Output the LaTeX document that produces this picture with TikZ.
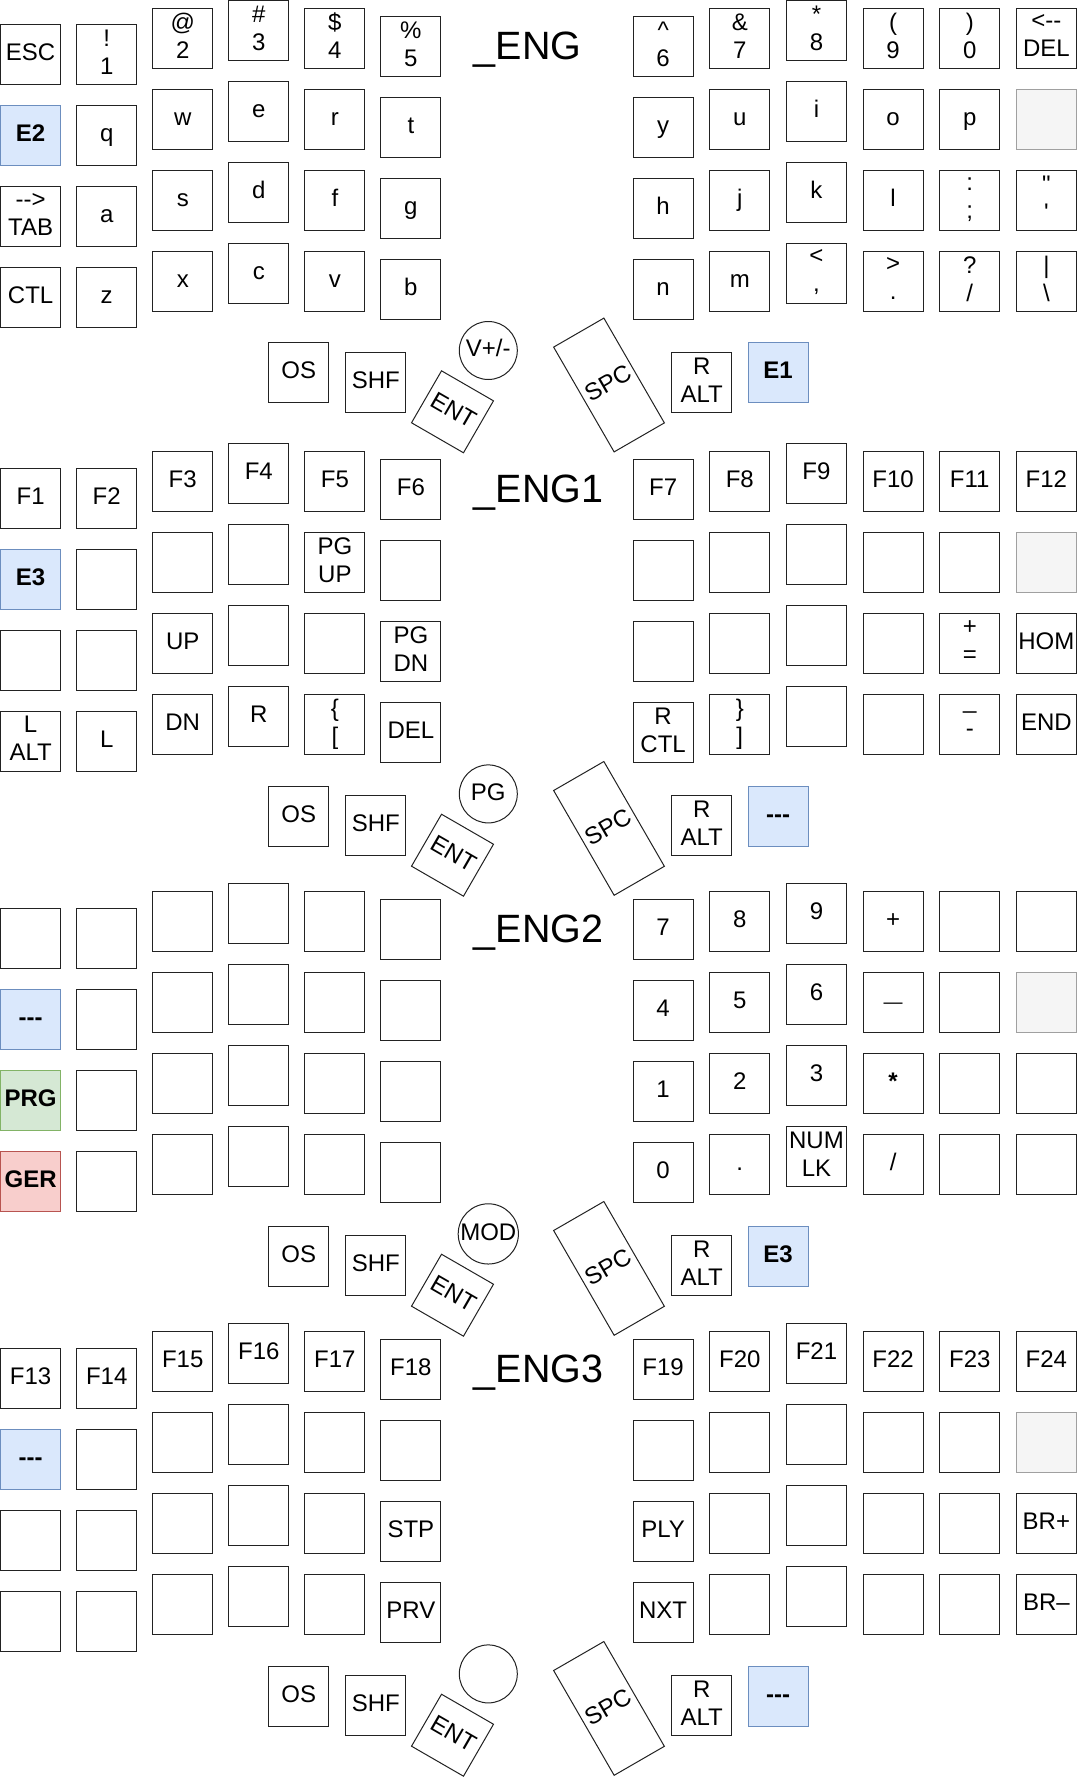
\documentclass[tikz,border=0pt]{standalone}
\usepackage{fontspec}
\setmainfont{Liberation Sans}
\usepackage{tikz}
\definecolor{keyline}{HTML}{222222}
\definecolor{accent}{HTML}{6C8EBF}
\definecolor{accentfill}{HTML}{DAE8FC}
\definecolor{prog}{HTML}{82B366}
\definecolor{progfill}{HTML}{D5E8D4}
\definecolor{ger}{HTML}{B85450}
\definecolor{gerfill}{HTML}{F8CECC}
\definecolor{blank}{HTML}{A0A0A0}
\definecolor{blankfill}{HTML}{F5F5F5}

\newcommand{\keyfont}{\fontsize{24}{28}\selectfont}
\newcommand{\titlefont}{\fontsize{39.5}{46}\selectfont}
\newcommand{\longdash}{{\fontsize{19}{28}\selectfont\textemdash}}
% column centres and first-row centres of the key grid
\newcommand{\colx}{{30.65,106.7,182.75,258.8,334.85,410.9,663.15,739.8,816.45,893.1,969.75,1046.4}}
\newcommand{\coly}{{54.65,54.65,38.35,30.35,38.35,46.35,46.35,38.35,30.35,38.35,38.35,38.35}}

% one row of keys: layer, row, column/style/label
\newcommand{\keyrow}[3]{%
  \foreach \kc/\kst/\ktxt in {#3} {%
    \pgfmathsetmacro{\kx}{\colx[\kc]}%
    \pgfmathsetmacro{\ky}{\coly[\kc]+81*#2}%
    \node[\kst] (#1-\kc-#2) at (\kx,\ky) {\ktxt};
  }%
}
% thumb keys: layer, dial label, style and label of the last key
\newcommand{\thumbrow}[4]{%
  \node[key] (#1-os) at (298.75,372.65) {OS};
  \node[key] (#1-shf) at (375.85,382.35) {SHF};
  \node[key, rotate=-30] (#1-ent) at (452.5,411.8) {ENT};
  \node[dial] (#1-dial) at (488.3,350.5) {#2};
  \node[key, minimum width=58pt, minimum height=121pt, rotate=30] (#1-spc) at (609,385) {SPC};
  \node[key] (#1-ralt) at (701.75,382.35) {R\\ALT};
  \node[#3] (#1-layer) at (778.15,372.65) {#4};
}

\begin{document}
\begin{tikzpicture}[x=1pt, y=-1pt,
    key/.style={draw=keyline, line width=1pt, fill=white, minimum width=60pt, minimum height=60pt,
      inner sep=0pt, align=center, font=\keyfont, execute at begin node={\vphantom{(}}},
    bluekey/.style={key, draw=accent, fill=accentfill, font=\keyfont\bfseries},
    progkey/.style={key, draw=prog, fill=progfill, font=\keyfont\bfseries},
    gerkey/.style={key, draw=ger, fill=gerfill, font=\keyfont\bfseries},
    blankkey/.style={key, draw=blank, fill=blankfill},
    boldkey/.style={key, font=\keyfont\bfseries},
    dial/.style={key, circle, minimum size=58pt},
    title/.style={font=\titlefont, anchor=base west, inner sep=0pt}]
    \useasboundingbox (0,0) rectangle (1078,1779);
    % Base layer
    \begin{scope}
        \node[title] (eng-title) at (473.5,59.5) {\_ENG};
        \keyrow{eng}{0}{0/key/ESC, 1/key/{!\\1}, 2/key/{@\\2}, 3/key/{\#\\3}, 4/key/{\$\\4}, 5/key/{\%\\5},
          6/key/{\textasciicircum\\6}, 7/key/{\&\\7}, 8/key/{*\\8}, 9/key/{(\\9}, 10/key/{)\\0}, 11/key/{<-{}-\\DEL}}
        \keyrow{eng}{1}{0/bluekey/E2, 1/key/q, 2/key/w, 3/key/e, 4/key/r, 5/key/t,
          6/key/y, 7/key/u, 8/key/i, 9/key/o, 10/key/p, 11/blankkey/{}}
        \keyrow{eng}{2}{0/key/{-{}->\\TAB}, 1/key/a, 2/key/s, 3/key/d, 4/key/f, 5/key/g,
          6/key/h, 7/key/j, 8/key/k, 9/key/l, 10/key/{:\\;}, 11/key/{\textquotedbl\\\textquotesingle}}
        \keyrow{eng}{3}{0/key/CTL, 1/key/z, 2/key/x, 3/key/c, 4/key/v, 5/key/b,
          6/key/n, 7/key/m, 8/key/{<\\,}, 9/key/{>\\.}, 10/key/{?\\/}, 11/key/{|\\\textbackslash}}
        \thumbrow{eng}{V+/-}{bluekey}{E1}
    \end{scope}
    % Function layer
    \begin{scope}[yshift=-443.4pt]
        \node[title] (engA-title) at (473.5,59.5) {\_ENG1};
        \keyrow{engA}{0}{0/key/F1, 1/key/F2, 2/key/F3, 3/key/F4, 4/key/F5, 5/key/F6,
          6/key/F7, 7/key/F8, 8/key/F9, 9/key/F10, 10/key/F11, 11/key/F12}
        \keyrow{engA}{1}{0/bluekey/E3, 1/key/{}, 2/key/{}, 3/key/{}, 4/key/{PG\\UP}, 5/key/{},
          6/key/{}, 7/key/{}, 8/key/{}, 9/key/{}, 10/key/{}, 11/blankkey/{}}
        \keyrow{engA}{2}{0/key/{}, 1/key/{}, 2/key/UP, 3/key/{}, 4/key/{}, 5/key/{PG\\DN},
          6/key/{}, 7/key/{}, 8/key/{}, 9/key/{}, 10/key/{+\\=}, 11/key/HOM}
        \keyrow{engA}{3}{0/key/{L\\ALT}, 1/key/L, 2/key/DN, 3/key/R, 4/key/{\{\\{}[}, 5/key/DEL,
          6/key/{R\\CTL}, 7/key/{\}\\{}]}, 8/key/{}, 9/key/{}, 10/key/{\_\\-}, 11/key/END}
        \thumbrow{engA}{PG}{bluekey}{-{}-{}-}
    \end{scope}
    % Number layer
    \begin{scope}[yshift=-883.4pt]
        \node[title] (engB-title) at (473.5,59.5) {\_ENG2};
        \keyrow{engB}{0}{0/key/{}, 1/key/{}, 2/key/{}, 3/key/{}, 4/key/{}, 5/key/{},
          6/key/7, 7/key/8, 8/key/9, 9/key/+, 10/key/{}, 11/key/{}}
        \keyrow{engB}{1}{0/bluekey/{-{}-{}-}, 1/key/{}, 2/key/{}, 3/key/{}, 4/key/{}, 5/key/{},
          6/key/4, 7/key/5, 8/key/6, 9/key/\longdash, 10/key/{}, 11/blankkey/{}}
        \keyrow{engB}{2}{0/progkey/PRG, 1/key/{}, 2/key/{}, 3/key/{}, 4/key/{}, 5/key/{},
          6/key/1, 7/key/2, 8/key/3, 9/boldkey/*, 10/key/{}, 11/key/{}}
        \keyrow{engB}{3}{0/gerkey/GER, 1/key/{}, 2/key/{}, 3/key/{}, 4/key/{}, 5/key/{},
          6/key/0, 7/key/., 8/key/{NUM\\LK}, 9/key/{/}, 10/key/{}, 11/key/{}}
        \thumbrow{engB}{MOD}{bluekey}{E3}
    \end{scope}
    % Media layer
    \begin{scope}[yshift=-1323.4pt]
        \node[title] (engC-title) at (473.5,59.5) {\_ENG3};
        \keyrow{engC}{0}{0/key/F13, 1/key/F14, 2/key/F15, 3/key/F16, 4/key/F17, 5/key/F18,
          6/key/F19, 7/key/F20, 8/key/F21, 9/key/F22, 10/key/F23, 11/key/F24}
        \keyrow{engC}{1}{0/bluekey/{-{}-{}-}, 1/key/{}, 2/key/{}, 3/key/{}, 4/key/{}, 5/key/{},
          6/key/{}, 7/key/{}, 8/key/{}, 9/key/{}, 10/key/{}, 11/blankkey/{}}
        \keyrow{engC}{2}{0/key/{}, 1/key/{}, 2/key/{}, 3/key/{}, 4/key/{}, 5/key/STP,
          6/key/PLY, 7/key/{}, 8/key/{}, 9/key/{}, 10/key/{}, 11/key/{BR+}}
        \keyrow{engC}{3}{0/key/{}, 1/key/{}, 2/key/{}, 3/key/{}, 4/key/{}, 5/key/PRV,
          6/key/NXT, 7/key/{}, 8/key/{}, 9/key/{}, 10/key/{}, 11/key/{BR--}}
        \thumbrow{engC}{}{bluekey}{-{}-{}-}
    \end{scope}
\end{tikzpicture}
\end{document}
